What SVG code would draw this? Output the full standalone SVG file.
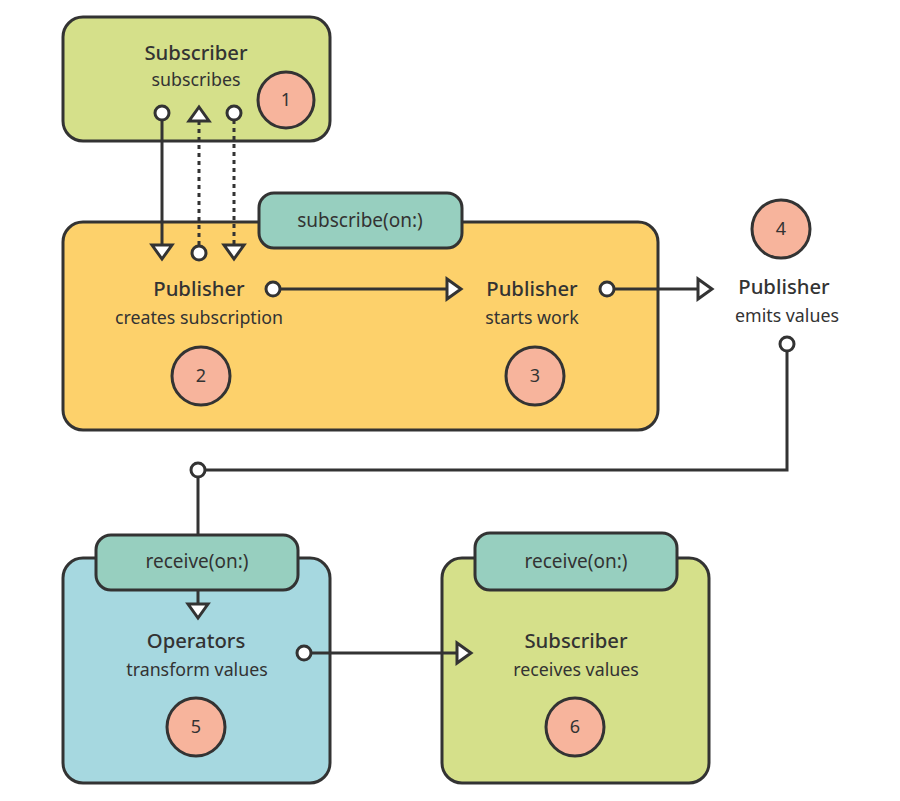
<svg xmlns="http://www.w3.org/2000/svg" width="900" height="801" viewBox="0 0 900 801">
<defs>
<style>
.box{stroke:#333;stroke-width:3}
.tab{fill:#97cfbf;stroke:#333;stroke-width:3}
.num{fill:#f7b49c;stroke:#333;stroke-width:3}
.t{font-family:"Noto Sans","Open Sans",sans-serif;font-size:20.3px;font-weight:500;fill:#333;text-anchor:middle}
.s{font-family:"Noto Sans","Open Sans",sans-serif;font-size:17.8px;fill:#333;text-anchor:middle}
.g{font-family:"Noto Sans","Open Sans",sans-serif;font-size:19px;fill:#333;text-anchor:middle}
.n{font-family:"Noto Sans","Open Sans",sans-serif;font-size:18px;fill:#333;text-anchor:middle}
.ln{fill:none;stroke:#333;stroke-width:3}
.dot{fill:none;stroke:#333;stroke-width:3;stroke-dasharray:4 4}
.port{fill:#fff;stroke:#333;stroke-width:3}
</style>
</defs>
<rect width="900" height="801" fill="#fff"/>

<g id="subscriber1">
<rect class="box" x="63" y="17" width="267" height="124" rx="20" fill="#d5e08a"/>
<text class="t" x="196" y="60">Subscriber</text>
<text class="s" x="196" y="86">subscribes</text>
<circle class="num" cx="286" cy="100" r="28"/>
<text class="n" x="286" y="106">1</text>
</g>

<g id="publisherBox">
<rect class="box" x="63" y="222" width="595" height="208" rx="20" fill="#fdd16b"/>
<rect class="tab" x="259" y="193" width="203" height="55" rx="15"/>
<text class="g" x="360" y="227">subscribe(on:)</text>
<text class="t" x="199" y="296">Publisher</text>
<text class="s" x="199" y="324">creates subscription</text>
<circle class="num" cx="201" cy="376" r="29"/>
<text class="n" x="201" y="382">2</text>
<text class="t" x="532" y="296">Publisher</text>
<text class="s" x="532" y="324">starts work</text>
<circle class="num" cx="535" cy="376" r="29"/>
<text class="n" x="535" y="382">3</text>
</g>

<g id="publisherEmits">
<circle class="num" cx="781" cy="229" r="29"/>
<text class="n" x="781" y="235">4</text>
<text class="t" x="784" y="294">Publisher</text>
<text class="s" x="787" y="322">emits values</text>
</g>

<g id="operators">
<rect class="box" x="63" y="558" width="267" height="225" rx="20" fill="#a6d8e0"/>
<rect class="tab" x="96" y="535" width="202" height="55" rx="15"/>
<text class="g" x="197" y="568">receive(on:)</text>
<text class="t" x="196" y="648">Operators</text>
<text class="s" x="197" y="676">transform values</text>
<circle class="num" cx="196" cy="727" r="29"/>
<text class="n" x="196" y="733">5</text>
</g>

<g id="subscriber6">
<rect class="box" x="442" y="558" width="267" height="225" rx="20" fill="#d5e08a"/>
<rect class="tab" x="475" y="533" width="202" height="57" rx="15"/>
<text class="g" x="576" y="568">receive(on:)</text>
<text class="t" x="576" y="648">Subscriber</text>
<text class="s" x="576" y="676">receives values</text>
<circle class="num" cx="575" cy="727" r="29"/>
<text class="n" x="575" y="733">6</text>
</g>

<g id="connectors">
<line class="ln" x1="162" y1="120" x2="162" y2="245"/>
<polygon class="port" points="152,245 172,245 162,259"/>
<circle class="port" cx="162" cy="113" r="7"/>

<line class="dot" x1="199" y1="121" x2="199" y2="246"/>
<polygon class="port" points="189,121 209,121 199,107"/>
<circle class="port" cx="199" cy="253" r="7"/>

<line class="dot" x1="234" y1="120" x2="234" y2="245"/>
<circle class="port" cx="234" cy="113" r="7"/>
<polygon class="port" points="224,245 244,245 234,259"/>

<line class="ln" x1="280" y1="289" x2="447" y2="289"/>
<circle class="port" cx="273" cy="289" r="7"/>
<polygon class="port" points="447,279 447,299 461,289"/>

<line class="ln" x1="614" y1="289" x2="698" y2="289"/>
<circle class="port" cx="607" cy="289" r="7"/>
<polygon class="port" points="698,279 698,299 712,289"/>

<polyline class="ln" points="787,351 787,470 205,470"/>
<circle class="port" cx="787" cy="344" r="7"/>
<line class="ln" x1="198" y1="477" x2="198" y2="535"/>
<circle class="port" cx="198" cy="470" r="7"/>
<line class="ln" x1="198" y1="590" x2="198" y2="604"/>
<polygon class="port" points="188,604 208,604 198,618"/>

<line class="ln" x1="311" y1="653" x2="457" y2="653"/>
<circle class="port" cx="304" cy="653" r="7"/>
<polygon class="port" points="457,643 457,663 471,653"/>
</g>
</svg>
